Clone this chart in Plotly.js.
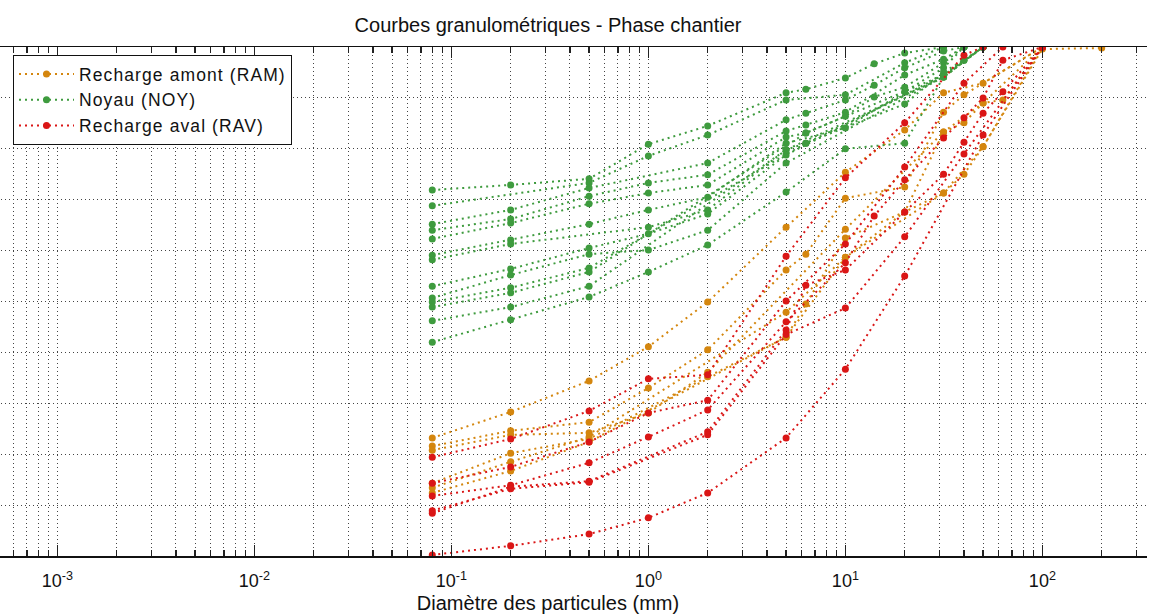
<!DOCTYPE html>
<html><head><meta charset="utf-8">
<script src="https://cdn.plot.ly/plotly-3.0.1.min.js"></script>
<style>html,body{margin:0;padding:0;overflow:hidden;background:#fff}
#chart{position:absolute;left:-51px;top:0;width:1200px;height:614px}
.legendtext{letter-spacing:1.1px}</style>
</head><body><div id="chart"></div>
<script>
const n = null;
const sieves = [0.08,0.2,0.5,1,2,5,6.3,10,14,20,31.5,40,50,63,100,200];

// Noyau (NOY) - passing percentages
const noy1  = [71.9,72.9,74.1,80.9,84.5,91.0,91.7,93.9,96.7,98.8,100,n,n,n,n,n];
const noy2  = [68.8,n,73.3,78.6,82.7,89.6,n,90.6,n,96.9,100,n,n,n,n,n];
const noy3  = [65.2,68.0,72.3,n,77.2,85.7,87.0,89.6,92.5,95.9,99.2,100,n,n,n,n];
const noy4  = [64.0,66.2,70.7,73.3,74.9,83.5,84.7,87.2,n,94.5,97.6,100,n,n,n,n];
const noy5  = [62.3,65.4,69.2,71.3,72.9,82.3,83.1,86.4,90.2,92.1,96.9,100,n,n,n,n];
const noy6  = [59.1,62.1,65.2,68.0,70.5,81.1,n,84.1,n,91.2,95.9,100,n,n,n,n];
const noy7  = [58.2,61.3,n,64.6,68.0,79.8,81.1,n,n,88.8,95.1,97.4,100,n,n,n];
const noy8  = [53.0,56.4,60.5,63.3,67.2,78.8,n,n,n,n,94.5,97.4,100,n,n,n];
const noy9  = [50.7,55.2,59.3,60.1,64.0,77.2,n,n,n,n,94.1,n,100,n,n,n];
const noy10 = [49.9,52.7,56.6,n,n,n,81.1,n,n,n,94.1,n,100,n,n,n];
const noy11 = [48.9,51.7,55.8,n,n,n,83.1,n,n,n,94.5,n,100,n,n,n];
const noy12 = [46.2,48.9,53.0,n,n,79.8,n,n,n,n,94.1,n,100,n,n,n];
const noy13 = [42.0,46.4,50.9,55.8,61.1,71.5,n,80.0,n,81.1,94.1,n,100,n,n,n];

// Recharge amont (RAM)
const ram1 = [23.2,28.3,34.4,41.1,49.9,64.6,n,75.4,n,83.7,91.0,n,92.9,n,100,n];
const ram2 = [21.6,24.6,26.3,33.0,40.5,56.2,59.3,70.3,n,72.5,87.2,90.6,n,n,100,n];
const ram3 = [20.8,23.8,24.2,28.1,36.1,n,n,64.2,n,n,83.3,85.1,89.0,89.6,100,n];
const ram4 = [14.3,20.2,23.0,n,35.2,43.0,49.5,62.5,n,67.6,71.3,75.0,80.4,n,99.6,99.8];
const ram5 = [13.4,18.5,23.4,n,n,47.9,n,58.7,n,67.6,83.3,n,89.0,n,100,n];
const ram6 = [12.4,16.7,22.4,n,n,43.0,n,58.7,n,n,71.3,n,80.4,n,100,n];

// Recharge aval (RAV)
const rav1 = [19.4,23.0,28.5,34.8,35.6,58.9,n,74.3,n,85.1,n,98.4,100,n,n,n];
const rav2 = [14.3,17.5,22.4,28.1,30.6,50.1,n,61.3,n,76.4,n,92.9,n,100,n,n];
const rav3 = [11.8,13.9,18.3,23.4,28.7,46.0,n,57.6,66.8,73.9,82.1,86.1,90.0,97.4,100,n];
const rav4 = [8.4,13.6,14.7,n,24.4,44.4,53.2,56.2,n,67.6,75.0,81.3,87.0,91.2,100,n];
const rav5 = [0.2,2.0,4.3,7.5,12.4,23.2,n,36.7,n,55.0,n,n,82.7,n,100,n];
const rav6 = [8.9,13.2,14.5,n,23.8,43.5,n,48.7,n,62.7,n,79.0,n,n,100,n];

const ramCurves = [ram1,ram2,ram3,ram4,ram5,ram6];
const noyCurves = [noy1,noy2,noy3,noy4,noy5,noy6,noy7,noy8,noy9,noy10,noy11,noy12,noy13];
const ravCurves = [rav1,rav2,rav3,rav4,rav5,rav6];

const groups = [
  {name:'Recharge amont (RAM)', color:'#D4860E', curves:ramCurves},
  {name:'Noyau (NOY)', color:'#3E9B3E', curves:noyCurves},
  {name:'Recharge aval (RAV)', color:'#DA1616', curves:ravCurves}
];

const traces = [];
groups.forEach(g => {
  g.curves.forEach((c, i) => {
    traces.push({
      x: sieves, y: c, type:'scatter', mode:'lines+markers',
      connectgaps:true, name:g.name, legendgroup:g.name, showlegend:i===0,
      line:{color:g.color, width:2, dash:'2px,4px'},
      marker:{color:g.color, size:7}
    });
  });
});

const major = [0.001,0.01,0.1,1,10,100];
const majorText = ['10<sup>-3</sup>','10<sup>-2</sup>','10<sup>-1</sup>','10<sup>0</sup>','10<sup>1</sup>','10<sup>2</sup>'];
const minorVals = [];
for (let e = -4; e <= 2; e++) for (let m = 2; m <= 9; m++) minorVals.push(m*Math.pow(10,e));

const gridDash = '1px,3px';
const layout = {
  width:1200, height:614,
  margin:{l:0, r:2, t:47, b:58},
  paper_bgcolor:'#fff', plot_bgcolor:'#fff',
  font:{family:'Liberation Sans, Arial, sans-serif', size:20, color:'#111'},
  title:{text:'Courbes granulométriques - Phase chantier', xref:'paper', x:0.5, xanchor:'center',
         yref:'container', y:1-25/614, yanchor:'middle', font:{size:20, color:'#111'}},
  xaxis:{type:'log', range:[-3.55, 2.531], tickmode:'array', tickvals:major, ticktext:majorText,
         ticks:'inside', ticklen:11, tickwidth:1.5, tickcolor:'#222',
         showline:true, linecolor:'#111', linewidth:1.5, mirror:'ticks',
         showgrid:true, gridcolor:'#444', griddash:gridDash, gridwidth:1,
         tickfont:{size:18, color:'#111'}, ticklabelstandoff:8,
         minor:{tickmode:'array', tickvals:minorVals, ticks:'inside', ticklen:6, tickwidth:1.5, tickcolor:'#222',
                showgrid:true, gridcolor:'#444', griddash:gridDash, gridwidth:1},
         zeroline:false,
         title:{text:'Diamètre des particules (mm)', font:{size:20, color:'#111'}, standoff:6}},
  yaxis:{range:[0,100], dtick:10, showticklabels:false, ticks:'', showline:false, zeroline:false,
         showgrid:true, gridcolor:'#444', griddash:gridDash, gridwidth:1},
  showlegend:true,
  legend:{x:64/1198, y:1-8/509, xanchor:'left', yanchor:'top', bgcolor:'#fff', itemwidth:55,
          bordercolor:'#111', borderwidth:1, font:{size:17.5, color:'#111'}, tracegroupgap:0}
};

Plotly.newPlot('chart', traces, layout, {displayModeBar:false, staticPlot:true});
</script></body></html>
